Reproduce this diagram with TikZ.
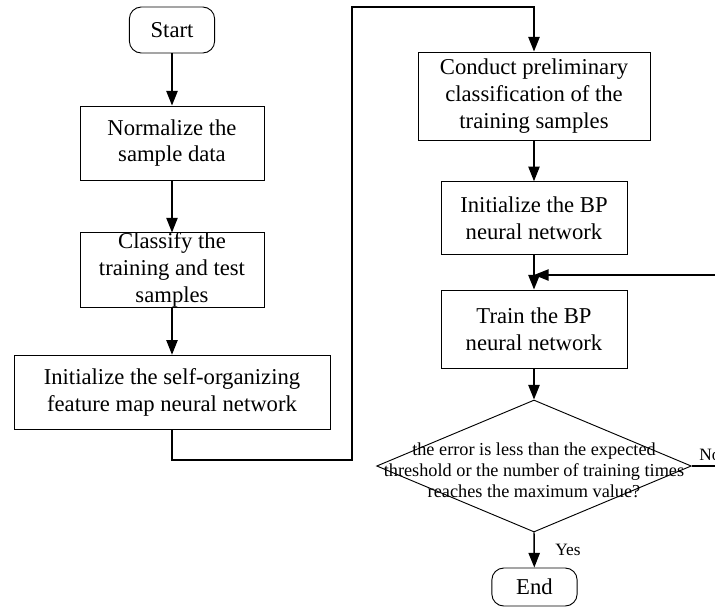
\documentclass[tikz,border=0pt]{standalone}
\usepackage{fontspec}
\setmainfont{Liberation Serif}
\usetikzlibrary{arrows.meta,shapes.geometric}

\begin{document}
\begin{tikzpicture}[x=0.75pt,y=-0.75pt,>={Triangle[length=11pt,width=8.5pt]},
  every node/.style={font=\fontsize{17}{20}\selectfont},
  stepbox/.style={draw,line width=0.7pt,align=center,inner sep=0pt},
  termbox/.style={stepbox,rounded corners=9pt},
  flow/.style={line width=1.1pt,->},
  lbl/.style={font=\fontsize{13}{15}\selectfont}]
\useasboundingbox (0,0) rectangle (715,611); \clip (0,0) rectangle (715,611);
\fill[white] (0,0) rectangle (715,611);
% left column
\node[termbox,minimum width=64pt,minimum height=34.5pt] (start) at (172,30){Start};
\node[stepbox,minimum width=138pt,minimum height=55.5pt] (norm) at (172,143){Normalize the\\sample data};
\node[stepbox,minimum width=138pt,minimum height=55.5pt] (split) at (172,270){Classify the\\training and test\\samples};
\node[stepbox,minimum width=237pt,minimum height=56pt] (som) at (172,392.5){Initialize the self-organizing\\feature map neural network};
% right column
\node[stepbox,minimum width=174pt,minimum height=66pt] (pre) at (534,96){Conduct preliminary\\classification of the\\training samples};
\node[stepbox,minimum width=139.5pt,minimum height=54.5pt] (initbp) at (534,218){Initialize the BP\\neural network};
\node[stepbox,minimum width=139.5pt,minimum height=58.5pt] (train) at (534,329){Train the BP\\neural network};
\node[draw,line width=0.7pt,shape=diamond,minimum width=236pt,minimum height=99pt,inner sep=0pt] (check) at (534,466){};
\node[align=center,font=\fontsize{13.7}{15.8}\selectfont] (checktxt) at ([yshift=-3]check.center){the error is less than the expected\\threshold or the number of training times\\reaches the maximum value?};
\node[termbox,minimum width=64pt,minimum height=28.5pt] (end) at (534.5,587){End};
\coordinate (jumpa) at (352,460); \coordinate (jumpb) at (352,7);
\coordinate (loopa) at (745,466); \coordinate (merge) at (534,275);
\draw[flow] (start)--(norm); \draw[flow] (norm)--(split); \draw[flow] (split)--(som);
\draw[flow] (som.south) |- (jumpa) -- (jumpb) -| (pre.north);
\draw[flow] (pre)--(initbp); \draw[flow] (initbp)--(train); \draw[flow] (train)--(check.north);
\draw[flow] (check.south)--node[lbl,right,xshift=12pt]{Yes}(end);
\draw[flow] (check.east)--node[lbl,above,pos=0.34]{No}(loopa) |- (merge);
\end{tikzpicture}
\end{document}
